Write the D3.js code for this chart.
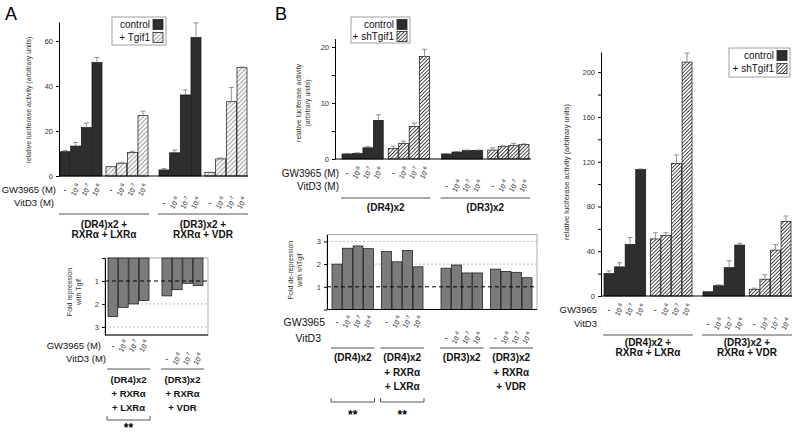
<!DOCTYPE html>
<html>
<head>
<meta charset="utf-8">
<script src="https://cdn.jsdelivr.net/npm/d3@7"></script>
<style>
  body { margin: 0; background: #fff; }
</style>
</head>
<body>
<script>
// ---- data ----
var doses = ['-', '10-8', '10-7', '10-6'];
var pairs = ['DR4', 'DR3'];

// A: luciferase, control vs + Tgif1
var aCtrlDR4 = [10.8, 13.3, 21.5, 50.4], aCtrlDR4Err = [0.6, 1.6, 2, 2.2];
var aTgifDR4 = [4.1, 5.7, 10.4, 26.8],   aTgifDR4Err = [0.2, 0.4, 0.6, 2];
var aCtrlDR3 = [2.7, 10.3, 36, 61.5],    aCtrlDR3Err = [0.6, 1.2, 2.2, 6.5];
var aTgifDR3 = [1.6, 7.6, 33, 48.1],     aTgifDR3Err = [0.1, 0.4, 6.3, 0.3];
// A: fold repression with Tgif
var aFoldDR4 = [2.55, 2.15, 2.0, 1.85];
var aFoldDR3 = [1.65, 1.38, 1.1, 1.2];

// B: luciferase, control vs + shTgif1
var bCtrlDR4 = [0.9, 1.0, 2.0, 6.9],     bCtrlDR4Err = [0.1, 0.1, 0.2, 1.0];
var bShDR4 = [1.9, 2.8, 5.8, 18.3],      bShDR4Err = [0.4, 0.4, 0.6, 1.3];
var bCtrlDR3 = [0.9, 1.25, 1.5, 1.55],   bCtrlDR3Err = [0.05, 0.05, 0.1, 0.05];
var bShDR3 = [1.6, 2.2, 2.45, 2.6],      bShDR3Err = [0.4, 0.15, 0.35, 0.1];
// B: fold de-repression with shTgif
var bFoldDR4 = [2.0, 2.7, 2.8, 2.68];
var bFoldDR4Rec = [2.55, 2.1, 2.6, 1.88];
var bFoldDR3 = [1.82, 1.96, 1.61, 1.61];
var bFoldDR3Rec = [1.78, 1.68, 1.64, 1.4];

// right: luciferase with receptors, control vs + shTgif1
var cCtrlDR4 = [20, 26, 46, 113],        cCtrlDR4Err = [2.5, 3.8, 6.3, 0.5];
var cShDR4 = [51, 54, 118.5, 209],       cShDR4Err = [5.5, 2.5, 7.5, 8];
var cCtrlDR3 = [3.8, 9.2, 25.3, 45.5],   cCtrlDR3Err = [0.3, 0.8, 6.2, 1.5];
var cShDR3 = [6, 15, 41, 66.5],          cShDR3Err = [1, 4, 5, 5];

var aLegend = ['control', '+ Tgif1'];
var bLegend = ['control', '+ shTgif1'];
var aNames = [['(DR4)x2 +', 'RXR\u03b1 + LXR\u03b1'], ['(DR3)x2 +', 'RXR\u03b1 + VDR']];
var aFoldNames = [['(DR4)x2', '+ RXR\u03b1', '+ LXR\u03b1'], ['(DR3)x2', '+ RXR\u03b1', '+ VDR']];
var bNames = [['(DR4)x2'], ['(DR3)x2']];
var bFoldNames = [['(DR4)x2'], ['(DR4)x2', '+ RXR\u03b1', '+ LXR\u03b1'], ['(DR3)x2'], ['(DR3)x2', '+ RXR\u03b1', '+ VDR']];
var rowTitlesM = ['GW3965 (M)', 'VitD3 (M)'];
var rowTitles = ['GW3965', 'VitD3'];

function rows(pair, group, vals, errs) {
  return vals.map(function(v, i) {
    return {pair: pair, group: group, dose: doses[i], value: v, err: errs ? errs[i] : 0};
  });
}

var font = '"Liberation Sans", Arial, Helvetica, sans-serif';
var svg = d3.select('body').append('svg')
  .attr('width', 800).attr('height', 435)
  .style('font-family', font);

// hatch fills
var defs = svg.append('defs');
function hatch(id, size, color, sw) {
  var p = defs.append('pattern').attr('id', id)
    .attr('patternUnits', 'userSpaceOnUse')
    .attr('width', size).attr('height', size)
    .attr('patternTransform', 'rotate(45)');
  p.append('rect').attr('width', size).attr('height', size).attr('fill', '#fff');
  p.append('line').attr('x1', size / 2).attr('x2', size / 2).attr('y1', 0).attr('y2', size)
    .attr('stroke', color).attr('stroke-width', sw);
}
hatch('hatchLight', 3.2, '#8a8a8a', 0.9);
hatch('hatchDark', 2.6, '#333', 0.9);

var dark = '#2e2e2e';

function barPanel(o) {
  var g = svg.append('g');
  var x0 = d3.scaleBand().domain(o.pairs).range(o.xRange).paddingInner(o.padPair);
  var x1 = d3.scaleBand().domain(o.groups).range([0, x0.bandwidth()]).paddingInner(o.padGroup || 0);
  var x2 = d3.scaleBand().domain(doses).range([0, x1.bandwidth()]).paddingInner(0.06);
  var bx = function(d) { return x0(d.pair) + x1(d.group) + x2(d.dose); };
  var bw = x2.bandwidth();
  var y = o.y;
  var yr = y.range();

  // frame and reference lines (fold panels)
  if (o.frameRight) {
    g.append('rect')
      .attr('x', o.axisX).attr('y', Math.min(yr[0], yr[1]))
      .attr('width', o.frameRight - o.axisX).attr('height', Math.abs(yr[1] - yr[0]))
      .attr('fill', 'none').attr('stroke', '#999').attr('stroke-width', 0.8);
    g.selectAll('line.grid').data(o.grid).join('line')
      .attr('x1', o.axisX).attr('x2', o.frameRight)
      .attr('y1', function(d) { return y(d); }).attr('y2', function(d) { return y(d); })
      .attr('stroke', '#888').attr('stroke-width', 0.6).attr('stroke-dasharray', '2,2');
  }

  // bars
  g.selectAll('rect.bar').data(o.data).join('rect')
    .attr('x', bx).attr('width', bw)
    .attr('y', function(d) { return Math.min(y(0), y(d.value)); })
    .attr('height', function(d) { return Math.abs(y(d.value) - y(0)); })
    .attr('fill', function(d) { return o.fill[d.group]; })
    .attr('stroke', '#111').attr('stroke-width', 0.7);

  // error bars (upper half only)
  var eb = g.selectAll('g.err').data(o.data.filter(function(d) { return d.err > 0; })).join('g')
    .attr('stroke', '#777').attr('stroke-width', 0.8);
  eb.append('line')
    .attr('x1', function(d) { return bx(d) + bw / 2; }).attr('x2', function(d) { return bx(d) + bw / 2; })
    .attr('y1', function(d) { return y(d.value); }).attr('y2', function(d) { return y(d.value + d.err); });
  eb.append('line')
    .attr('x1', function(d) { return bx(d) + bw / 2 - 2.5; }).attr('x2', function(d) { return bx(d) + bw / 2 + 2.5; })
    .attr('y1', function(d) { return y(d.value + d.err); }).attr('y2', function(d) { return y(d.value + d.err); });

  if (o.refLine !== undefined) {
    g.append('line')
      .attr('x1', o.axisX).attr('x2', o.frameRight)
      .attr('y1', y(o.refLine)).attr('y2', y(o.refLine))
      .attr('stroke', '#000').attr('stroke-width', 1).attr('stroke-dasharray', '4,3');
  }

  // y axis
  var axis = d3.axisLeft(y).tickValues(o.ticks).tickSize(3).tickSizeOuter(0).tickPadding(3);
  if (o.tickFormat) axis.tickFormat(o.tickFormat);
  var ax = g.append('g').attr('transform', 'translate(' + o.axisX + ',0)').call(axis)
    .attr('font-family', font).attr('font-size', 7.5);
  ax.selectAll('text').attr('fill', '#333');
  if (o.minor) {
    g.append('g').attr('transform', 'translate(' + o.axisX + ',0)')
      .call(d3.axisLeft(y).tickValues(o.minor).tickSize(3).tickSizeOuter(0).tickFormat(''))
      .select('.domain').remove();
  }
  // baseline / bottom axis
  g.append('line')
    .attr('x1', o.axisX).attr('x2', o.baseEnd)
    .attr('y1', y(o.baseAt)).attr('y2', y(o.baseAt))
    .attr('stroke', '#000').attr('stroke-width', 1);

  // y label
  var yl = g.append('text').attr('transform', 'translate(' + o.yLabel.x + ',' + o.yLabel.y + ') rotate(-90)')
    .attr('text-anchor', 'middle').attr('font-size', o.yLabel.size).attr('fill', '#333');
  o.yLabel.lines.forEach(function(l, i) {
    yl.append('tspan').attr('x', 0).attr('dy', i === 0 ? 0 : o.yLabel.size * 1.35).text(l);
  });

  // dose labels
  var lab = g.selectAll('g.dose').data(o.data).join('g')
    .attr('transform', function(d) { return 'translate(' + (bx(d) + bw / 2) + ',' + o.rowY[d.pair] + ')'; });
  lab.each(function(d) {
    var t = d3.select(this).append('text').attr('font-size', 7).attr('fill', '#222').attr('text-anchor', 'middle');
    if (d.dose === '-') {
      t.attr('dy', 3).attr('font-size', 9).text('-');
    } else {
      t.attr('transform', 'rotate(-60)').attr('dy', 2.5);
      t.append('tspan').text(d.dose.slice(0, 2));
      t.append('tspan').attr('font-size', 5).attr('dy', -3).text(d.dose.slice(2));
    }
  });

  // row titles
  o.rowTitles.forEach(function(r) {
    g.append('text').attr('x', r.x).attr('y', r.y).attr('dy', '0.35em')
      .attr('text-anchor', 'end').attr('font-size', o.rowSize).attr('fill', '#111').text(r.text);
  });

  // underlines and construct names
  o.names.forEach(function(n) {
    var x = x0(n.pair) + (n.group ? x1(n.group) : 0);
    var w = n.group ? x1.bandwidth() : x0.bandwidth();
    g.append('line').attr('x1', x - 1).attr('x2', x + w + 1)
      .attr('y1', o.nameLine).attr('y2', o.nameLine)
      .attr('stroke', '#555').attr('stroke-width', 1);
    n.lines.forEach(function(l, i) {
      g.append('text').attr('x', x + w / 2).attr('y', o.nameY + i * o.nameStep)
        .attr('text-anchor', 'middle').attr('font-weight', 'bold')
        .attr('font-size', o.nameSize).attr('fill', '#111').text(l);
    });
    if (n.sig) {
      var by = o.bracketY;
      g.append('path')
        .attr('d', 'M' + (x - 1) + ',' + (by - 4) + 'V' + by + 'H' + (x + w + 1) + 'V' + (by - 4))
        .attr('fill', 'none').attr('stroke', '#444').attr('stroke-width', 0.9);
      g.append('text').attr('x', x + w / 2).attr('y', by + o.sigDy)
        .attr('text-anchor', 'middle').attr('font-weight', 'bold').attr('font-size', 12)
        .text(n.sig);
    }
  });
}

function legend(x, y, w, h, step, labels, fills) {
  var g = svg.append('g').attr('transform', 'translate(' + x + ',' + y + ')');
  g.append('rect').attr('width', w).attr('height', h)
    .attr('fill', '#fff').attr('stroke', '#888').attr('stroke-width', 0.8);
  labels.forEach(function(l, i) {
    g.append('text').attr('x', w - 16).attr('y', 10.5 + i * step)
      .attr('text-anchor', 'end').attr('font-size', 10).attr('fill', '#111').text(l);
    g.append('rect').attr('x', w - 13).attr('y', 2.5 + i * step)
      .attr('width', 10).attr('height', 10)
      .attr('fill', fills[i]).attr('stroke', '#222').attr('stroke-width', 0.8);
  });
}

// ---- Panel A, top ----
barPanel({
  pairs: pairs, groups: ['control', 'treated'],
  xRange: [60, 247], padPair: 0.111, padGroup: 0.087,
  y: d3.scaleLinear().domain([0, 68.4]).range([176, 22]),
  ticks: [0, 20, 40, 60], axisX: 59, baseAt: 0, baseEnd: 248,
  fill: {control: dark, treated: 'url(#hatchLight)'},
  data: [].concat(rows('DR4', 'control', aCtrlDR4, aCtrlDR4Err), rows('DR4', 'treated', aTgifDR4, aTgifDR4Err),
                  rows('DR3', 'control', aCtrlDR3, aCtrlDR3Err), rows('DR3', 'treated', aTgifDR3, aTgifDR3Err)),
  rowY: {DR4: 190, DR3: 203}, rowSize: 9.5,
  rowTitles: [{text: rowTitlesM[0], x: 56, y: 190}, {text: rowTitlesM[1], x: 54, y: 203}],
  yLabel: {x: 31, y: 100, size: 7, lines: ['relative luciferase activity (arbitrary units)']},
  names: [{pair: 'DR4', lines: aNames[0]}, {pair: 'DR3', lines: aNames[1]}],
  nameLine: 214, nameY: 228, nameStep: 10, nameSize: 10
});
legend(112, 17, 54, 28, 13, aLegend, [dark, 'url(#hatchLight)']);

// ---- Panel A, fold repression ----
barPanel({
  pairs: pairs, groups: ['fold'],
  xRange: [108, 203], padPair: 0.24,
  y: d3.scaleLinear().domain([0, 3.35]).range([258, 335]),
  ticks: [0, 1, 2, 3], tickFormat: function(d) { return d === 0 ? '' : d; },
  axisX: 105, baseAt: 3.35, baseEnd: 208, frameRight: 208, grid: [2, 3], refLine: 1,
  fill: {fold: '#7b7b7b'},
  data: [].concat(rows('DR4', 'fold', aFoldDR4), rows('DR3', 'fold', aFoldDR3)),
  rowY: {DR4: 346, DR3: 359}, rowSize: 9.5,
  rowTitles: [{text: rowTitlesM[0], x: 101, y: 346}, {text: rowTitlesM[1], x: 106, y: 359}],
  yLabel: {x: 72, y: 292, size: 7, lines: ['Fold repression', 'with Tgif']},
  names: [{pair: 'DR4', lines: aFoldNames[0], sig: '**'}, {pair: 'DR3', lines: aFoldNames[1]}],
  nameLine: 369, nameY: 383, nameStep: 14, nameSize: 9.5, bracketY: 420, sigDy: 12
});

// ---- Panel B, top ----
barPanel({
  pairs: pairs, groups: ['control', 'treated'],
  xRange: [342, 529], padPair: 0.121, padGroup: 0.109,
  y: d3.scaleLinear().domain([0, 21.5]).range([159, 38.6]),
  ticks: [0, 10, 20], minor: [5, 15], axisX: 335, baseAt: 0, baseEnd: 531,
  fill: {control: dark, treated: 'url(#hatchDark)'},
  data: [].concat(rows('DR4', 'control', bCtrlDR4, bCtrlDR4Err), rows('DR4', 'treated', bShDR4, bShDR4Err),
                  rows('DR3', 'control', bCtrlDR3, bCtrlDR3Err), rows('DR3', 'treated', bShDR3, bShDR3Err)),
  rowY: {DR4: 173, DR3: 186}, rowSize: 10,
  rowTitles: [{text: rowTitlesM[0], x: 339, y: 173}, {text: rowTitlesM[1], x: 339, y: 186}],
  yLabel: {x: 301, y: 103, size: 7, lines: ['relative luciferase activity', '(arbitrary units)']},
  names: [{pair: 'DR4', lines: bNames[0]}, {pair: 'DR3', lines: bNames[1]}],
  nameLine: 198, nameY: 211, nameStep: 10, nameSize: 10
});
legend(351, 17, 59, 26, 12, bLegend, [dark, 'url(#hatchDark)']);

// ---- Panel B, fold de-repression ----
barPanel({
  pairs: pairs, groups: ['alone', 'receptors'],
  xRange: [332, 532], padPair: 0.165, padGroup: 0.16,
  y: d3.scaleLinear().domain([0, 3.3]).range([309.5, 234.6]),
  ticks: [0, 1, 2, 3], tickFormat: function(d) { return d === 0 ? '' : d; },
  axisX: 327, baseAt: 0, baseEnd: 537, frameRight: 537, grid: [2, 3], refLine: 1,
  fill: {alone: '#7b7b7b', receptors: '#7b7b7b'},
  data: [].concat(rows('DR4', 'alone', bFoldDR4), rows('DR4', 'receptors', bFoldDR4Rec),
                  rows('DR3', 'alone', bFoldDR3), rows('DR3', 'receptors', bFoldDR3Rec)),
  rowY: {DR4: 322, DR3: 338}, rowSize: 10.5,
  rowTitles: [{text: rowTitles[0], x: 325, y: 322}, {text: rowTitles[1], x: 321, y: 338}],
  yLabel: {x: 293, y: 270, size: 7, lines: ['Fold de-repression', 'with shTgif']},
  names: [{pair: 'DR4', group: 'alone', lines: bFoldNames[0], sig: '**'},
          {pair: 'DR4', group: 'receptors', lines: bFoldNames[1], sig: '**'},
          {pair: 'DR3', group: 'alone', lines: bFoldNames[2]},
          {pair: 'DR3', group: 'receptors', lines: bFoldNames[3]}],
  nameLine: 348, nameY: 361, nameStep: 14.5, nameSize: 10, bracketY: 402, sigDy: 17
});

// ---- right panel ----
barPanel({
  pairs: pairs, groups: ['control', 'treated'],
  xRange: [604, 791], padPair: 0.111, padGroup: 0.1,
  y: d3.scaleLinear().domain([0, 218]).range([296, 52]),
  ticks: [0, 40, 80, 120, 160, 200], minor: [20, 60, 100, 140, 180], axisX: 601, baseAt: 0, baseEnd: 792,
  fill: {control: dark, treated: 'url(#hatchDark)'},
  data: [].concat(rows('DR4', 'control', cCtrlDR4, cCtrlDR4Err), rows('DR4', 'treated', cShDR4, cShDR4Err),
                  rows('DR3', 'control', cCtrlDR3, cCtrlDR3Err), rows('DR3', 'treated', cShDR3, cShDR3Err)),
  rowY: {DR4: 310, DR3: 324}, rowSize: 9.5,
  rowTitles: [{text: rowTitles[0], x: 597, y: 310}, {text: rowTitles[1], x: 597, y: 324}],
  yLabel: {x: 569, y: 172, size: 7.5, lines: ['relative luciferase activity (arbitrary units)']},
  names: [{pair: 'DR4', lines: aNames[0]}, {pair: 'DR3', lines: aNames[1]}],
  nameLine: 335, nameY: 346, nameStep: 10, nameSize: 10
});
legend(729, 48, 61, 29, 13, bLegend, [dark, 'url(#hatchDark)']);

// panel letters
svg.append('text').attr('x', 5).attr('y', 20).attr('font-size', 18).text('A');
svg.append('text').attr('x', 275).attr('y', 20).attr('font-size', 18).text('B');
</script>
</body>
</html>
